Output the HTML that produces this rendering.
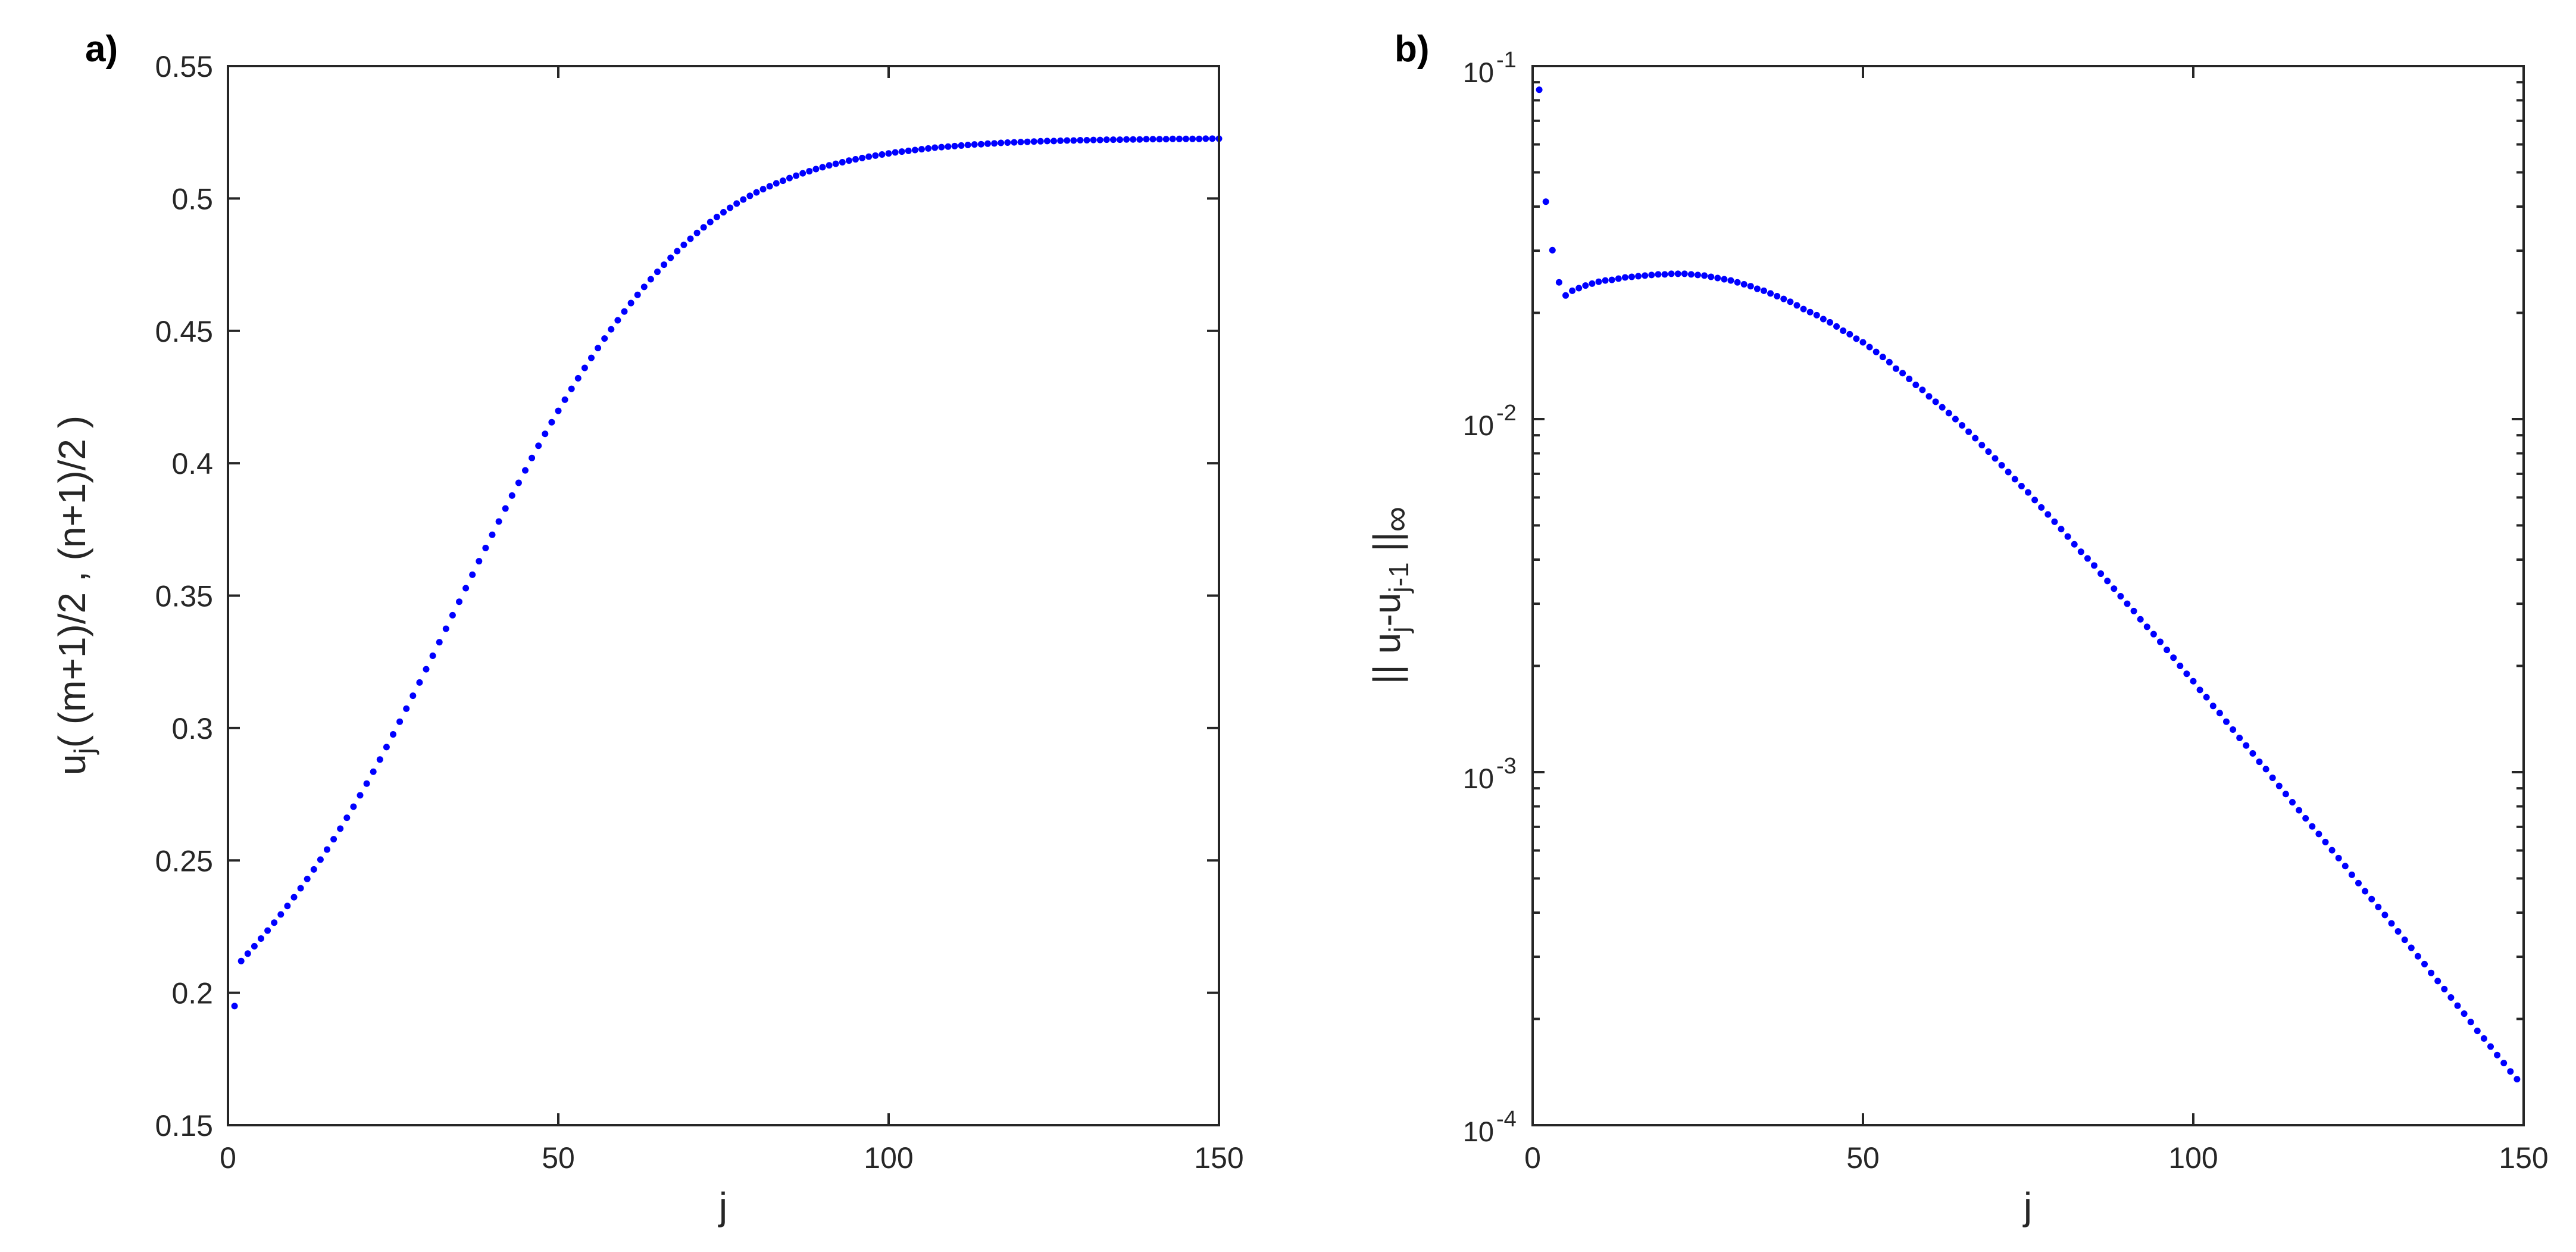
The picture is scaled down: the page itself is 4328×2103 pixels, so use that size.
<!DOCTYPE html>
<html><head><meta charset="utf-8">
<style>
html,body{margin:0;padding:0;background:#fff;}
svg{display:block;font-family:"Liberation Sans",Arial,sans-serif;}
</style></head>
<body>
<svg id="fig" width="4328" height="2103" viewBox="0 0 4328 2103" xmlns="http://www.w3.org/2000/svg">
<rect x="0" y="0" width="4328" height="2103" fill="#fff"/>
<text x="143" y="103" font-size="62" font-weight="bold" fill="#000">a)</text>
<text x="2343" y="103" font-size="62" font-weight="bold" fill="#000">b)</text>
<g id="left"></g>
<g id="right"></g>
<text transform="translate(143,1000) rotate(-90)" text-anchor="middle" font-size="64" fill="#262626">u<tspan font-size="46" dy="14">j</tspan><tspan dy="-14">( (m+1)/2 , (n+1)/2 )</tspan></text>
<text x="1215" y="2048" text-anchor="middle" font-size="64" fill="#262626">j</text>
<text transform="translate(2352,1000) rotate(-90)" text-anchor="middle" font-size="64" fill="#262626">|| u<tspan font-size="46" dy="14">j</tspan><tspan dy="-14">-u</tspan><tspan font-size="46" dy="14">j-1</tspan><tspan dy="-14"> ||</tspan><tspan font-size="60" dy="14">∞</tspan></text>
<text x="3407" y="2048" text-anchor="middle" font-size="64" fill="#262626">j</text>
</svg>
<script>
// ---- data ----
const uJ = [0.195,0.212,0.2148,0.2176,0.2205,0.2235,0.2265,0.2296,0.2328,0.2361,
0.2395,0.243,0.2466,0.2503,0.2541,0.258,0.262,0.2661,0.2703,0.2746,
0.279,0.2835,0.2881,0.2928,0.2976,0.3024,0.3073,0.3122,0.3172,0.3222,
0.3273,0.3324,0.3375,0.3426,0.3477,0.3528,0.3579,0.363,0.368,0.373,
0.378,0.3829,0.3878,0.3926,0.3973,0.402,0.4066,0.4111,0.4155,0.4198,
0.424,0.4281,0.4321,0.436,0.4398,0.4435,0.4471,0.4506,0.454,0.4573,
0.4605,0.4636,0.4666,0.4695,0.4723,0.475,0.4776,0.4801,0.4825,0.4848,
0.487,0.4891,0.4911,0.493,0.4948,0.4965,0.4981,0.4996,0.501,0.5023,
0.5035,0.5046,0.5057,0.5067,0.5077,0.5086,0.5095,0.5103,0.5111,0.5118,
0.5125,0.5131,0.5137,0.5143,0.5148,0.5153,0.5158,0.5162,0.5166,0.517,
0.5174,0.5177,0.518,0.5183,0.5186,0.5189,0.5192,0.5194,0.5196,0.5198,
0.52,0.5202,0.5204,0.5205,0.5207,0.5208,0.521,0.5211,0.5212,0.5213,
0.5214,0.5215,0.5216,0.5217,0.5217,0.5218,0.5219,0.5219,0.522,0.522,
0.5221,0.5221,0.5222,0.5222,0.5222,0.5223,0.5223,0.5223,0.5224,0.5224,
0.5224,0.5224,0.5225,0.5225,0.5225,0.5225,0.5225,0.5226,0.5226,0.5226];
const errJ = [0.0857,0.0413,0.0301,0.0244,0.0224,0.0231,0.0235,0.0239,0.0242,0.0245,
0.0247,0.0248,0.0250,0.0252,0.0253,0.0254,0.0255,0.0256,0.0257,0.0257,
0.0258,0.0258,0.0258,0.0257,0.0256,0.0255,0.0253,0.0251,0.0249,0.0247,
0.0244,0.0241,0.0238,0.0234,0.0231,0.0227,0.0223,0.0219,0.0215,0.0210,
0.0205,0.0201,0.0197,0.0192,0.0188,0.0183,0.0178,0.0174,0.0169,0.0165,
0.0160,0.0155,0.0150,0.0145,0.0139,0.0135,0.0130,0.0125,0.0121,0.0116,
0.0112,0.0108,0.0104,0.0100,0.00960,0.00921,0.00883,0.00844,0.00809,0.00774,
0.00740,0.00708,0.00676,0.00646,0.00620,0.00590,0.00562,0.00537,0.00512,0.00488,
0.00465,0.00442,0.00421,0.00403,0.00385,0.00365,0.00348,0.00331,0.00315,0.00300,
0.00286,0.00271,0.00258,0.00246,0.00234,0.00222,0.00211,0.00200,0.00190,0.00181,
0.00171,0.00163,0.00154,0.00147,0.00139,0.00132,0.00125,0.00119,0.00113,0.00107,
0.00102,0.000964,0.000914,0.000867,0.000822,0.000780,0.000740,0.000702,0.000668,0.000634,
0.000601,0.000571,0.000542,0.000512,0.000485,0.000460,0.000437,0.000415,0.000394,0.000373,
0.000354,0.000335,0.000318,0.000301,0.000286,0.000270,0.000256,0.000243,0.000230,0.000218,
0.000207,0.000196,0.000185,0.000176,0.000167,0.000158,0.000150,0.000142,0.000135];
const xTicks = [0,50,100,150];
const xTickLabels = ["0","50","100","150"];
const leftYTicks = [0.15,0.2,0.25,0.3,0.35,0.4,0.45,0.5,0.55];
const leftYTickLabels = ["0.15","0.2","0.25","0.3","0.35","0.4","0.45","0.5","0.55"];
const rightYDecades = [-1,-2,-3,-4];
const rightYExpLabels = ["-1","-2","-3","-4"];

const NS="http://www.w3.org/2000/svg";
const C="#262626";
function mk(parent,tag,attrs,text){const e=document.createElementNS(NS,tag);for(const k in attrs)e.setAttribute(k,attrs[k]);if(text!==undefined)e.textContent=text;parent.appendChild(e);return e;}

const TOP=111,BOT=1890;
// ---------- left ----------
const L={x0:383,x1:2048};
const lx=v=>L.x0+(v-0)/(150-0)*(L.x1-L.x0);
const ly=v=>BOT-(v-0.15)/(0.55-0.15)*(BOT-TOP);
const gl=document.getElementById('left');
xTicks.forEach((t,i)=>{
  const x=lx(t);
  const a=mk(gl,'line',{x1:x,y1:BOT,x2:x,y2:BOT-20,stroke:C,'stroke-width':4});
  
  
  const b=mk(gl,'line',{x1:x,y1:TOP,x2:x,y2:TOP+20,stroke:C,'stroke-width':4});
  
  
  const tx=mk(gl,'text',{x:x,y:1962,'text-anchor':'middle','font-size':50,fill:C},xTickLabels[i]);
  
  
});
leftYTicks.forEach((t,i)=>{
  const y=ly(t);
  const a=mk(gl,'line',{x1:L.x0,y1:y,x2:L.x0+20,y2:y,stroke:C,'stroke-width':4});
  
  
  const b=mk(gl,'line',{x1:L.x1,y1:y,x2:L.x1-20,y2:y,stroke:C,'stroke-width':4});
  
  
  const tx=mk(gl,'text',{x:358,y:y+18,'text-anchor':'end','font-size':50,fill:C},leftYTickLabels[i]);
  
  
});
uJ.forEach((v,i)=>{
  const c=mk(gl,'circle',{cx:lx(i+1),cy:ly(v),r:5.5,fill:'#0000ff'});
  
  
});
const boxL=mk(gl,'rect',{x:L.x0,y:TOP,width:L.x1-L.x0,height:BOT-TOP,fill:'none',stroke:C,'stroke-width':4});



// ---------- right ----------
const R={x0:2575,x1:4240};
const rx=v=>R.x0+(v-0)/(150-0)*(R.x1-R.x0);
const ry=v=>TOP+(-1-Math.log10(v))/3*(BOT-TOP);
const gr=document.getElementById('right');
xTicks.forEach((t,i)=>{
  const x=rx(t);
  const a=mk(gr,'line',{x1:x,y1:BOT,x2:x,y2:BOT-20,stroke:C,'stroke-width':4});
  
  
  const b=mk(gr,'line',{x1:x,y1:TOP,x2:x,y2:TOP+20,stroke:C,'stroke-width':4});
  
  
  const tx=mk(gr,'text',{x:x,y:1962,'text-anchor':'middle','font-size':50,fill:C},xTickLabels[i]);
  
  
});
rightYDecades.forEach((d,i)=>{
  const y=ry(Math.pow(10,d));
  const a=mk(gr,'line',{x1:R.x0,y1:y,x2:R.x0+20,y2:y,stroke:C,'stroke-width':4});
  
  
  const b=mk(gr,'line',{x1:R.x1,y1:y,x2:R.x1-20,y2:y,stroke:C,'stroke-width':4});
  
  
  const t1=mk(gr,'text',{x:2510,y:y+27,'text-anchor':'end','font-size':47,fill:C},'10');
  
  
  const t2=mk(gr,'text',{x:2514,y:y+2,'font-size':38,fill:C},rightYExpLabels[i]);
  
  
  if(d>-4){
    for(let m=2;m<=9;m++){
      const yy=ry(m*Math.pow(10,d-1));
      const a2=mk(gr,'line',{x1:R.x0,y1:yy,x2:R.x0+12,y2:yy,stroke:C,'stroke-width':4});
      
      
      const b2=mk(gr,'line',{x1:R.x1,y1:yy,x2:R.x1-12,y2:yy,stroke:C,'stroke-width':4});
      
      
    }
  }
});
errJ.forEach((v,i)=>{
  const c=mk(gr,'circle',{cx:rx(i+1),cy:ry(v),r:5.5,fill:'#0000ff'});
  
  
});
const boxR=mk(gr,'rect',{x:R.x0,y:TOP,width:R.x1-R.x0,height:BOT-TOP,fill:'none',stroke:C,'stroke-width':4});


</script>
</body></html>
